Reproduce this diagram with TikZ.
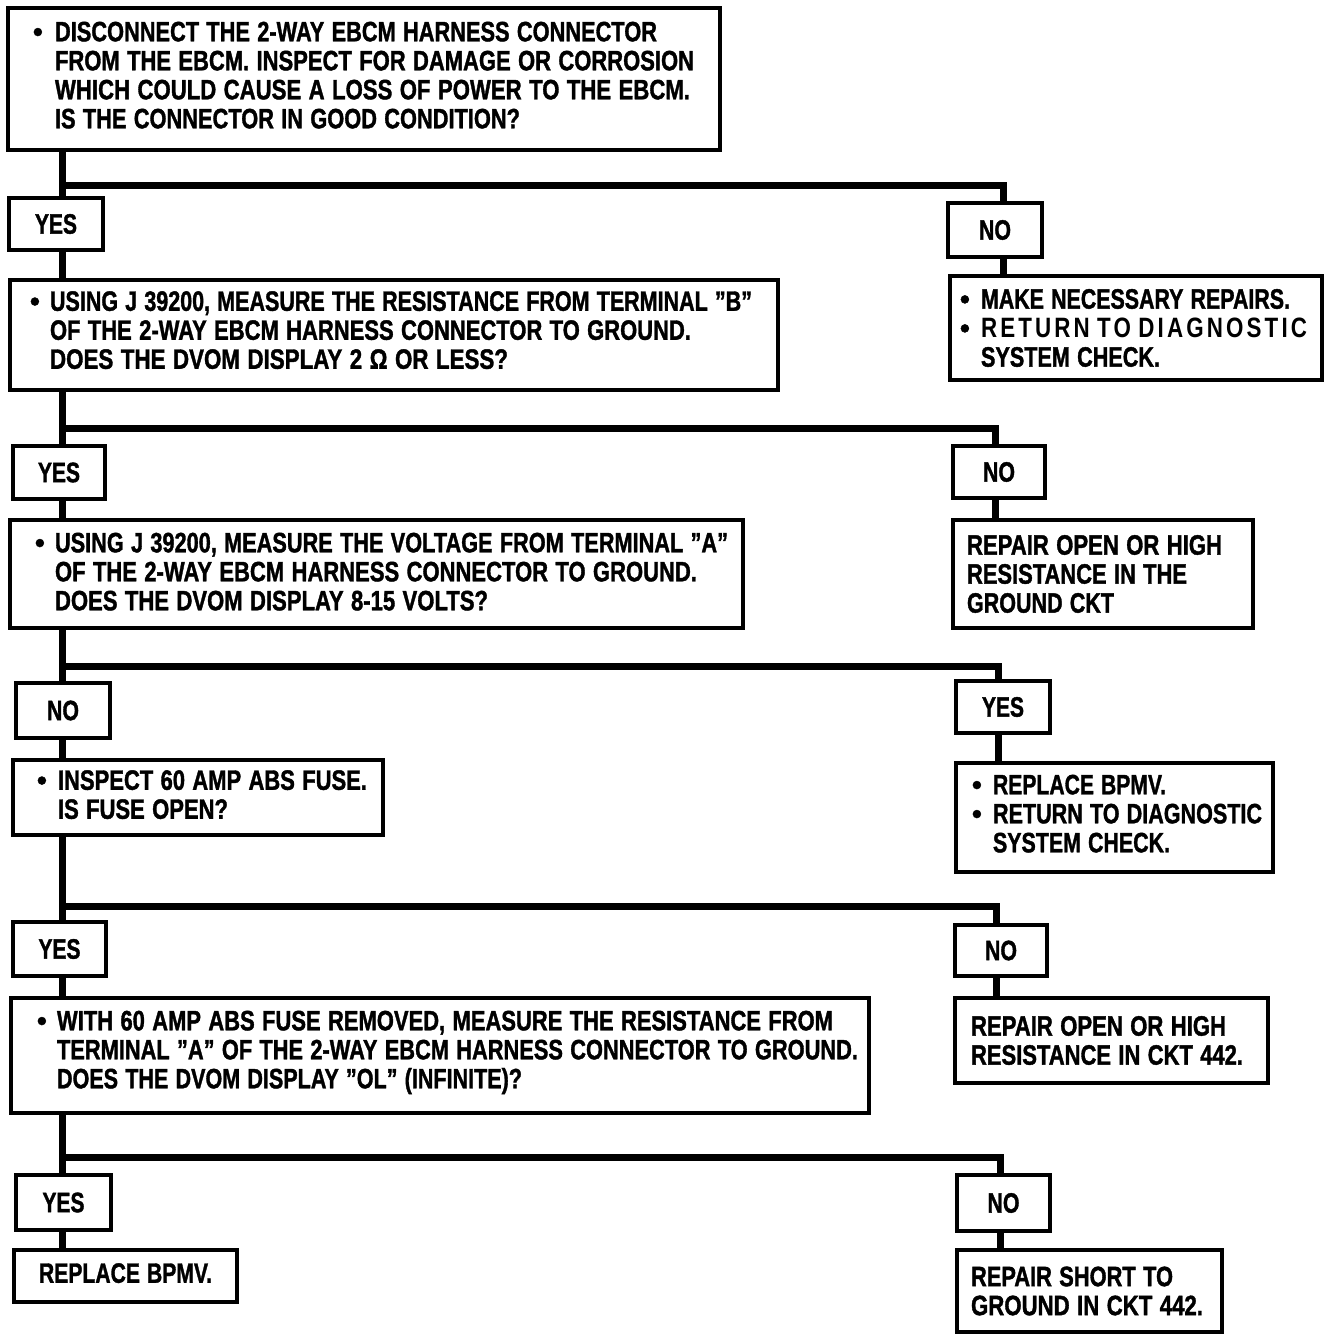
\documentclass[tikz,border=0pt]{standalone}
\usepackage{fontspec}
\setmainfont[FakeBold=1.5]{Liberation Sans}
\newfontfamily\spaced[LetterSpace=14]{Liberation Sans}
\usepackage{graphicx}
\newcommand{\fw}[2]{\resizebox{#1pt}{\height}{#2}}
\newcommand{\bul}[1]{\makebox[#1pt][l]{•}}
\newcommand{\ind}[1]{\hspace*{#1pt}}
\newcommand{\dn}[1]{\rule[-#1pt]{0pt}{0pt}}
\begin{document}
\begin{tikzpicture}[x=1pt,y=-1pt,
  box/.style={draw, line width=3.5pt, fill=white, outer sep=0pt, inner ysep=0pt,
    anchor=north west, align=left, font=\fontsize{28}{29}\selectfont\bfseries},
  lab/.style={draw, line width=3.5pt, fill=white, outer sep=0pt, inner sep=0pt,
    anchor=north west, align=center, font=\fontsize{28}{29}\selectfont\bfseries},
  conn/.style={line width=7pt, line join=miter}]
\useasboundingbox (0,0) rectangle (1344,1340);
\fill[white] (0,0) rectangle (1344,1340);

% questions
\node[box, minimum width=712, minimum height=142, inner xsep=25pt, text width=662pt] (q1) at (8,8)
 {\bul{22}\fw{602}{DISCONNECT THE 2-WAY EBCM HARNESS CONNECTOR}\\
  \ind{22}\fw{639}{FROM THE EBCM. INSPECT FOR DAMAGE OR CORROSION}\\
  \ind{22}\fw{635}{WHICH COULD CAUSE A LOSS OF POWER TO THE EBCM.}\\
  \ind{22}\fw{465}{IS THE CONNECTOR IN GOOD CONDITION?}\dn{8}};
\node[box, minimum width=768, minimum height=110, inner xsep=20pt, text width=728pt] (q2) at (10,280)
 {\bul{20}\fw{702}{USING J 39200, MEASURE THE RESISTANCE FROM TERMINAL "B"}\\
  \ind{20}\fw{641}{OF THE 2-WAY EBCM HARNESS CONNECTOR TO GROUND.}\\
  \ind{20}\fw{458}{DOES THE DVOM DISPLAY 2 Ω OR LESS?}\dn{10}};
\node[box, minimum width=733, minimum height=108, inner xsep=25pt, text width=683pt] (q3) at (10,520)
 {\bul{20}\fw{673}{USING J 39200, MEASURE THE VOLTAGE FROM TERMINAL "A"}\\
  \ind{20}\fw{642}{OF THE 2-WAY EBCM HARNESS CONNECTOR TO GROUND.}\\
  \ind{20}\fw{433}{DOES THE DVOM DISPLAY 8-15 VOLTS?}\dn{5}};
\node[box, minimum width=370, minimum height=75, inner xsep=24pt, text width=322pt] (q4) at (13,760)
 {\bul{21}\fw{309}{INSPECT 60 AMP ABS FUSE.}\\
  \ind{21}\fw{170}{IS FUSE OPEN?}\dn{6}};
\node[box, minimum width=858, minimum height=115, inner xsep=26pt, text width=806pt] (q5) at (11,998)
 {\bul{20}\fw{776}{WITH 60 AMP ABS FUSE REMOVED, MEASURE THE RESISTANCE FROM}\\
  \ind{20}\fw{801}{TERMINAL "A" OF THE 2-WAY EBCM HARNESS CONNECTOR TO GROUND.}\\
  \ind{20}\fw{465}{DOES THE DVOM DISPLAY "OL" (INFINITE)?}\dn{12}};
\node[box, minimum width=223, minimum height=52, inner xsep=25pt, text width=173pt] (f) at (14,1250)
 {\fw{173}{REPLACE BPMV.}\dn{6}};

% actions
\node[box, minimum width=372, minimum height=104, inner xsep=10pt, text width=352pt] (a1) at (950,276)
 {\bul{21}\fw{309}{MAKE NECESSARY REPAIRS.}\\
  \bul{21}\fw{326}{\spaced\bfseries RETURN TO DIAGNOSTIC}\\
  \ind{21}\fw{179}{SYSTEM CHECK.}};
\node[box, minimum width=300, minimum height=108, inner xsep=14pt, text width=272pt] (a2) at (953,520)
 {\fw{255}{REPAIR OPEN OR HIGH}\\
  \fw{220}{RESISTANCE IN THE}\\
  \fw{147}{GROUND CKT}};
\node[box, minimum width=317, minimum height=109, inner xsep=16pt, text width=285pt] (a3) at (956,763)
 {\bul{21}\fw{173}{REPLACE BPMV.}\\
  \bul{21}\fw{269}{RETURN TO DIAGNOSTIC}\\
  \ind{21}\fw{177}{SYSTEM CHECK.}\dn{8}};
\node[box, minimum width=313, minimum height=85, inner xsep=16pt, text width=281pt] (a4) at (955,998)
 {\fw{255}{REPAIR OPEN OR HIGH}\\
  \fw{272}{RESISTANCE IN CKT 442.}};
\node[box, minimum width=265, minimum height=82, inner xsep=14pt, text width=237pt] (a5) at (957,1250)
 {\fw{202}{REPAIR SHORT TO}\\
  \fw{232}{GROUND IN CKT 442.}};

% yes / no labels
\node[lab, minimum width=94, minimum height=52] (y1) at (9,198) {\fw{42}{YES}};
\node[lab, minimum width=94, minimum height=54] (n1) at (948,203) {\fw{32}{NO}};
\node[lab, minimum width=92, minimum height=53] (y2) at (13,446) {\fw{42}{YES}};
\node[lab, minimum width=92, minimum height=52] (n2) at (953,446) {\fw{32}{NO}};
\node[lab, minimum width=94, minimum height=55] (n3) at (16,683) {\fw{32}{NO}};
\node[lab, minimum width=94, minimum height=52] (y3) at (956,681) {\fw{42}{YES}};
\node[lab, minimum width=93, minimum height=54] (y4) at (13,922) {\fw{42}{YES}};
\node[lab, minimum width=92, minimum height=51] (n4) at (955,925) {\fw{32}{NO}};
\node[lab, minimum width=95, minimum height=55] (y5) at (16,1175) {\fw{42}{YES}};
\node[lab, minimum width=93, minimum height=56] (n5) at (957,1175) {\fw{32}{NO}};

% junctions
\coordinate (h1) at (62,186);  \coordinate (r1) at (1003,186);
\coordinate (h2) at (62,428);  \coordinate (r2) at (995,428);
\coordinate (h3) at (62,666);  \coordinate (r3) at (998,666);
\coordinate (h4) at (62,906);  \coordinate (r4) at (996,906);
\coordinate (h5) at (62,1157); \coordinate (r5) at (1000,1157);

% stage 1
\draw[conn] (q1.south -| h1) -- (y1.north -| h1);
\draw[conn] (h1) -- (r1) -- (n1.north -| r1);
\draw[conn] (y1.south -| h1) -- (q2.north -| h1);
\draw[conn] (n1.south -| r1) -- (a1.north -| r1);
% stage 2
\draw[conn] (q2.south -| h2) -- (y2.north -| h2);
\draw[conn] (h2) -- (r2) -- (n2.north -| r2);
\draw[conn] (y2.south -| h2) -- (q3.north -| h2);
\draw[conn] (n2.south -| r2) -- (a2.north -| r2);
% stage 3
\draw[conn] (q3.south -| h3) -- (n3.north -| h3);
\draw[conn] (h3) -- (r3) -- (y3.north -| r3);
\draw[conn] (n3.south -| h3) -- (q4.north -| h3);
\draw[conn] (y3.south -| r3) -- (a3.north -| r3);
% stage 4
\draw[conn] (q4.south -| h4) -- (y4.north -| h4);
\draw[conn] (h4) -- (r4) -- (n4.north -| r4);
\draw[conn] (y4.south -| h4) -- (q5.north -| h4);
\draw[conn] (n4.south -| r4) -- (a4.north -| r4);
% stage 5
\draw[conn] (q5.south -| h5) -- (y5.north -| h5);
\draw[conn] (h5) -- (r5) -- (n5.north -| r5);
\draw[conn] (y5.south -| h5) -- (f.north -| h5);
\draw[conn] (n5.south -| r5) -- (a5.north -| r5);
\end{tikzpicture}
\end{document}
